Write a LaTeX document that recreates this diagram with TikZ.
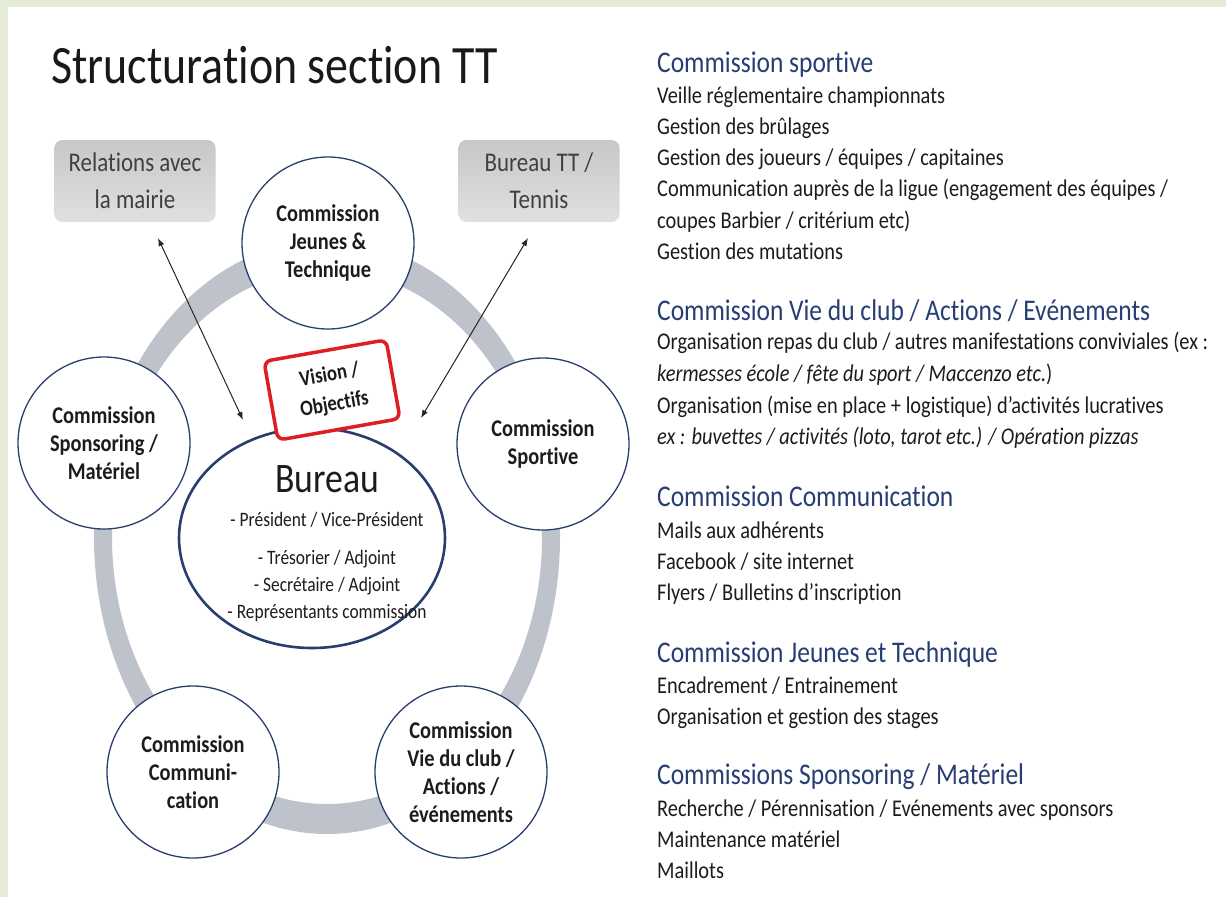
\documentclass[tikz,border=0pt]{standalone}
\usepackage{fontspec}
\setmainfont{Carlito}[FakeStretch=0.85,Ligatures={TeX,NoCommon}]
\usetikzlibrary{shapes.geometric,arrows.meta}

\definecolor{slidegreen}{RGB}{230,236,218}
\definecolor{ringgray}{RGB}{190,194,203}
\definecolor{navy}{RGB}{40,62,110}
\definecolor{headblue}{RGB}{38,62,115}
\definecolor{txt}{RGB}{28,28,28}
\definecolor{visred}{RGB}{222,30,32}

\tikzset{
  comm/.style={circle,draw=navy,line width=1.3pt,fill=white,minimum size=172pt,inner sep=0pt,
    align=center,text=txt,font=\bfseries\fontsize{24}{28}\selectfont},
  ext/.style={rounded corners=8pt,top color=black!22,bottom color=black!12,minimum width=161pt,
    minimum height=82pt,align=center,text=black!75,font=\fontsize{27}{37}\selectfont},
  head/.style={anchor=base west,inner sep=0pt,text=headblue,font=\fontsize{30}{30}\selectfont},
  item/.style={anchor=base west,inner sep=0pt,text=txt,font=\fontsize{24}{24}\selectfont},
  link/.style={{Latex[length=8pt,width=6pt]}-{Latex[length=8pt,width=6pt]},line width=1pt,black!85},
}

\begin{document}
\begin{tikzpicture}[x=1pt,y=-1pt]
    \useasboundingbox (0,0) rectangle (1226,897);
    \fill[slidegreen] (0,0) rectangle (1226,897);
    \fill[white] (8,7) rectangle (1226,897);

    \node[anchor=base west,inner sep=0pt,text=black!90,font=\fontsize{54}{54}\selectfont] (title) at (51,83) {Structuration section TT};

    % the grey ring
    \fill[ringgray,even odd rule] (327,537) ellipse [x radius=233pt,y radius=297pt]
        (327,537) ellipse [x radius=215pt,y radius=267pt];

    \node[ext] (mairie) at (135,181) {Relations avec\\la mairie};
    \node[ext] (tennis) at (539,181) {Bureau TT /\\Tennis};

    \node[comm] (jeunes) at (328,243) {Commission\\Jeunes \&\\Technique};
    \node[comm] (spons) at (104,443) {Commission\\Sponsoring /\\Matériel};
    \node[comm] (sport) at (543,444) {Commission\\Sportive};
    \node[comm] (comu) at (193,772) {Commission\\Communi-\\cation};
    \node[comm] (vie) at (461,772) {Commission\\Vie du club /\\Actions /\\événements};

    \node[ellipse,draw=navy,line width=2.6pt,fill=white,minimum width=266pt,minimum height=220pt] (bur) at (312,538) {};
    \node[text=txt,font=\fontsize{42}{42}\selectfont] (burT) at (327,479) {Bureau};
    \node[align=center,text=txt,font=\fontsize{20.5}{27}\selectfont] (burL) at (327,567)
        {- Président / Vice-Président\\[11pt]- Trésorier / Adjoint\\- Secrétaire / Adjoint\\- Représentants commission};

    \node[draw=visred,line width=3.5pt,rounded corners=7pt,fill=white,rotate=10,minimum width=124pt,
        minimum height=80pt,align=center,text=txt,font=\bfseries\fontsize{22}{30}\selectfont] (vis) at (332,390) {Vision /\\Objectifs};

    \coordinate (mA) at (158,238);
    \coordinate (mB) at (243,420);
    \coordinate (tA) at (528,238);
    \coordinate (tB) at (421,418);
    \draw[link] (mA) -- (mB);
    \draw[link] (tA) -- (tB);

    % right column
    \node[head] (h1) at (657,72) {Commission sportive};
    \foreach \y/\t [count=\i] in {103/{Veille réglementaire championnats},134/{Gestion des brûlages},
        165/{Gestion des joueurs / équipes / capitaines},
        196/{Communication auprès de la ligue (engagement des équipes /},
        228/{coupes Barbier / critérium etc)},259/{Gestion des mutations}}
        \node[item] (sa\i) at (657,\y) {\t};

    \node[head] (h2) at (657,320) {Commission Vie du club / Actions / Evénements};
    \foreach \y/\t [count=\i] in {349/{Organisation repas du club / autres manifestations conviviales (ex :},
        381/{\itshape kermesses école / fête du sport / Maccenzo etc.\upshape)},
        413/{Organisation (mise en place + logistique) d'activités lucratives},
        444/{\itshape ex : buvettes / activités (loto, tarot etc.) / Opération pizzas}}
        \node[item] (sb\i) at (657,\y) {\t};

    \node[head] (h3) at (657,506) {Commission Communication};
    \foreach \y/\t [count=\i] in {538/{Mails aux adhérents},569/{Facebook / site internet},600/{Flyers / Bulletins d'inscription}}
        \node[item] (sc\i) at (657,\y) {\t};

    \node[head] (h4) at (657,662) {Commission Jeunes et Technique};
    \foreach \y/\t [count=\i] in {693/{Encadrement / Entrainement},724/{Organisation et gestion des stages}}
        \node[item] (sd\i) at (657,\y) {\t};

    \node[head] (h5) at (657,784) {Commissions Sponsoring / Matériel};
    \foreach \y/\t [count=\i] in {816/{Recherche / Pérennisation / Evénements avec sponsors},847/{Maintenance matériel},878/{Maillots}}
        \node[item] (se\i) at (657,\y) {\t};
\end{tikzpicture}
\end{document}
